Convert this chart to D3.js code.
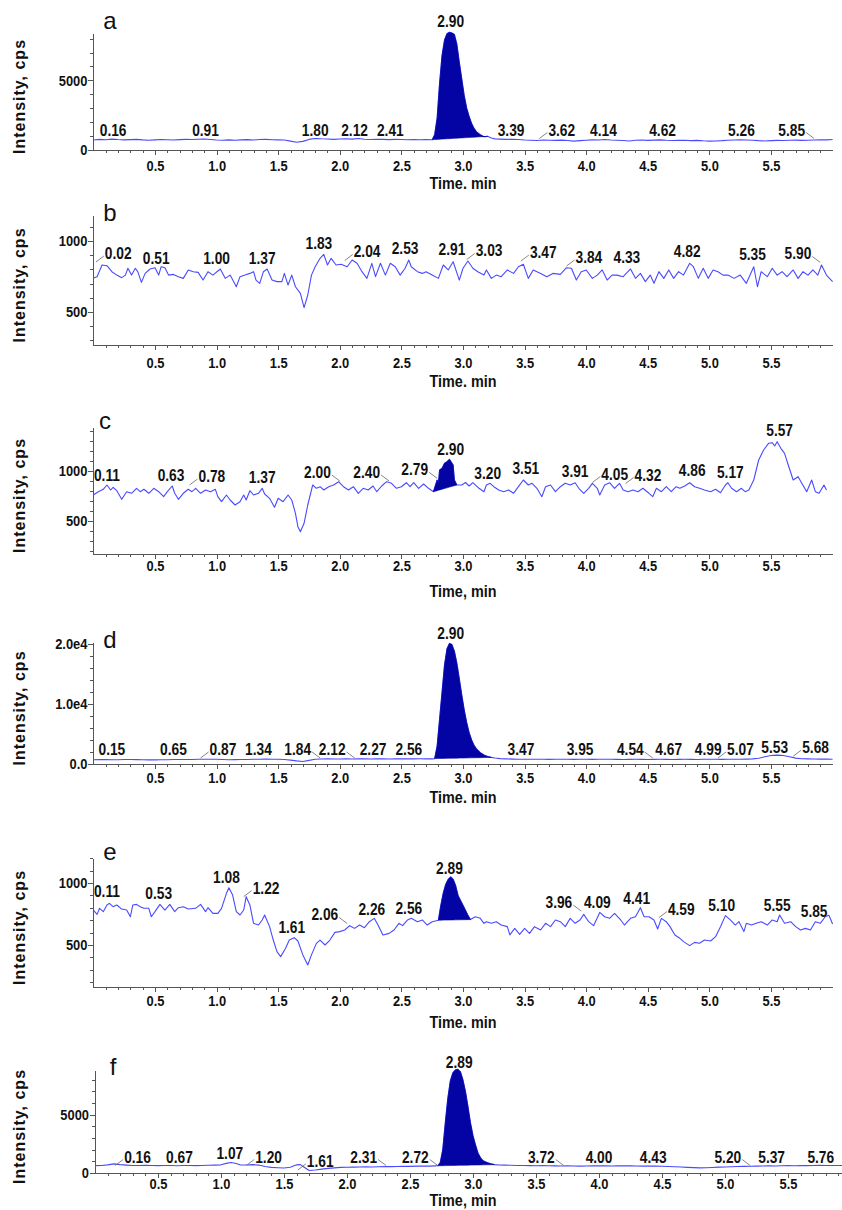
<!DOCTYPE html>
<html lang="en">

<head>
    <meta charset="UTF-8">
    <style type="text/css">
        body {
            margin: 0;
            background: #fff;
        }

        svg {
            display: block;
            font-family: "Liberation Sans", Arial, sans-serif;
        }

        .trace {
            fill: none;
            stroke: #4a4aff;
            stroke-width: 1.1;
            stroke-linejoin: round;
        }

        .peak {
            fill: #0404a4;
            stroke: #0404a4;
            stroke-width: 0.6;
        }

        .axis path,
        .axis line {
            fill: none;
            stroke: #555;
            shape-rendering: crispEdges;
        }

        .axis text {
            font-size: 15px;
            font-weight: bold;
            fill: #111;
        }

        .plabel {
            font-size: 16px;
            font-weight: bold;
            fill: #111;
        }

        .leader {
            stroke: #666;
            stroke-width: 0.8;
        }

        .ytitle {
            font-size: 16px;
            font-weight: bold;
            letter-spacing: 1px;
            fill: #111;
        }

        .xtitle {
            font-size: 16px;
            font-weight: bold;
            fill: #111;
        }

        .letter {
            font-size: 24px;
            fill: #111;
            font-family: "Liberation Sans Narrow", "Liberation Sans", sans-serif;
        }
    </style>
</head>

<body>
    <div class="main"></div>

    <script src="https://cdn.jsdelivr.net/npm/d3@7/dist/d3.min.js"></script>
    <script type="text/javascript">

        // x axis tick labels (minutes)
        var xTickLabels = [0.5, 1.0, 1.5, 2.0, 2.5, 3.0, 3.5, 4.0, 4.5, 5.0, 5.5];

        // y axis tick values per panel
        var yTicksA = [0, 5000];
        var yTicksB = [500, 1000];
        var yTicksC = [500, 1000];
        var yTicksD = [0, 10000, 20000];
        var yTicksE = [500, 1000];
        var yTicksF = [0, 5000];

        // traces: [time (min), intensity (cps)]
        var traceA = [[0.00, 720], [0.05, 760], [0.10, 740], [0.15, 780], [0.20, 750], [0.25, 730], [0.30, 745], [0.35, 765], [0.40, 725], [0.45, 700],
        [0.50, 730], [0.55, 755], [0.60, 740], [0.65, 720], [0.70, 745], [0.75, 760], [0.80, 750], [0.85, 775], [0.90, 790], [0.95, 755],
        [1.00, 720], [1.05, 700], [1.10, 725], [1.15, 700], [1.20, 730], [1.25, 745], [1.30, 720], [1.35, 750], [1.40, 765], [1.45, 740],
        [1.50, 730], [1.55, 715], [1.60, 640], [1.65, 560], [1.70, 620], [1.75, 760], [1.80, 830], [1.85, 805], [1.90, 790], [1.95, 765],
        [2.00, 785], [2.05, 805], [2.10, 780], [2.15, 825], [2.20, 770], [2.25, 750], [2.30, 775], [2.35, 760], [2.40, 745], [2.45, 765],
        [2.50, 750], [2.55, 740], [2.60, 755], [2.65, 740], [2.70, 745], [2.75, 740], [2.77, 1100], [2.79, 2300], [2.81, 4800], [2.83, 6800],
        [2.85, 7900], [2.87, 8350], [2.89, 8450], [2.91, 8400], [2.93, 8300], [2.95, 7600], [2.97, 6300], [2.99, 5100], [3.01, 3900], [3.03, 3000],
        [3.05, 2400], [3.07, 1900], [3.09, 1550], [3.11, 1300], [3.14, 1100], [3.17, 950], [3.20, 980], [3.23, 860], [3.26, 800], [3.30, 780],
        [3.35, 760], [3.40, 775], [3.45, 750], [3.50, 720], [3.55, 700], [3.60, 680], [3.65, 720], [3.70, 700], [3.75, 690], [3.80, 710],
        [3.85, 680], [3.90, 640], [3.95, 670], [4.00, 700], [4.05, 730], [4.10, 720], [4.15, 750], [4.20, 720], [4.25, 700], [4.30, 680],
        [4.35, 650], [4.40, 700], [4.45, 720], [4.50, 690], [4.55, 710], [4.60, 730], [4.65, 700], [4.70, 680], [4.75, 690], [4.80, 700],
        [4.85, 670], [4.90, 690], [4.95, 660], [5.00, 640], [5.05, 650], [5.10, 670], [5.15, 700], [5.20, 720], [5.25, 730], [5.30, 720],
        [5.35, 700], [5.40, 670], [5.45, 650], [5.50, 670], [5.55, 690], [5.60, 680], [5.65, 700], [5.70, 710], [5.75, 690], [5.80, 700],
        [5.85, 720], [5.90, 740], [5.95, 730], [6.00, 750]];

        var traceB = [[0.00, 740], [0.03, 749], [0.07, 831], [0.11, 826], [0.15, 784], [0.19, 760], [0.23, 742], [0.26, 760], [0.28, 808], [0.31, 760],
        [0.34, 808], [0.36, 784], [0.39, 709], [0.42, 772], [0.46, 803], [0.50, 812], [0.53, 760], [0.55, 819], [0.58, 812], [0.61, 760],
        [0.65, 765], [0.69, 749], [0.73, 737], [0.77, 796], [0.81, 784], [0.85, 779], [0.89, 725], [0.93, 784], [0.97, 760], [1.03, 803],
        [1.07, 737], [1.11, 760], [1.16, 678], [1.19, 749], [1.23, 760], [1.27, 772], [1.30, 784], [1.32, 725], [1.35, 702], [1.38, 784],
        [1.41, 803], [1.45, 725], [1.49, 714], [1.53, 714], [1.55, 772], [1.58, 690], [1.61, 760], [1.64, 678], [1.68, 631], [1.71, 531],
        [1.74, 620], [1.77, 760], [1.80, 819], [1.84, 878], [1.87, 906], [1.90, 831], [1.93, 878], [1.97, 831], [2.01, 836], [2.06, 819],
        [2.10, 866], [2.14, 843], [2.18, 784], [2.22, 737], [2.26, 843], [2.29, 749], [2.33, 843], [2.37, 760], [2.41, 843], [2.45, 819],
        [2.49, 760], [2.53, 808], [2.56, 866], [2.58, 819], [2.63, 784], [2.67, 772], [2.70, 784], [2.75, 760], [2.80, 737], [2.84, 831],
        [2.88, 796], [2.92, 854], [2.97, 725], [3.00, 808], [3.04, 859], [3.08, 808], [3.12, 784], [3.17, 760], [3.19, 796], [3.23, 737],
        [3.27, 760], [3.31, 749], [3.36, 796], [3.41, 772], [3.45, 819], [3.49, 836], [3.53, 737], [3.57, 796], [3.63, 772], [3.68, 749],
        [3.73, 772], [3.79, 765], [3.84, 812], [3.88, 808], [3.92, 725], [3.96, 784], [4.00, 796], [4.05, 737], [4.09, 760], [4.13, 796],
        [4.17, 725], [4.21, 760], [4.25, 760], [4.30, 749], [4.36, 803], [4.40, 737], [4.44, 772], [4.48, 714], [4.52, 760], [4.55, 702],
        [4.59, 784], [4.63, 737], [4.67, 796], [4.71, 737], [4.75, 784], [4.79, 760], [4.84, 843], [4.87, 819], [4.91, 737], [4.95, 808],
        [4.99, 737], [5.03, 796], [5.07, 784], [5.11, 760], [5.15, 760], [5.20, 737], [5.25, 760], [5.30, 702], [5.36, 819], [5.39, 678],
        [5.42, 784], [5.47, 749], [5.51, 808], [5.55, 760], [5.59, 784], [5.63, 749], [5.68, 796], [5.72, 737], [5.76, 784], [5.80, 760],
        [5.84, 796], [5.88, 760], [5.91, 831], [5.95, 760], [6.00, 714]];

        var traceC = [[0.00, 760], [0.04, 793], [0.08, 817], [0.11, 860], [0.14, 810], [0.16, 837], [0.19, 803], [0.23, 717], [0.27, 793], [0.31, 777],
        [0.35, 827], [0.38, 793], [0.41, 817], [0.45, 777], [0.49, 827], [0.53, 793], [0.57, 743], [0.60, 793], [0.64, 850], [0.66, 777],
        [0.69, 717], [0.73, 777], [0.77, 817], [0.80, 793], [0.83, 827], [0.87, 777], [0.91, 810], [0.95, 793], [0.99, 817], [1.01, 743],
        [1.04, 693], [1.08, 760], [1.11, 710], [1.15, 660], [1.19, 693], [1.22, 760], [1.24, 710], [1.27, 803], [1.30, 760], [1.34, 777],
        [1.37, 827], [1.39, 770], [1.43, 727], [1.47, 637], [1.50, 727], [1.54, 693], [1.58, 760], [1.61, 710], [1.64, 577], [1.66, 443],
        [1.68, 393], [1.71, 477], [1.74, 660], [1.78, 860], [1.81, 827], [1.84, 843], [1.87, 810], [1.91, 843], [1.95, 860], [1.99, 893],
        [2.03, 843], [2.07, 810], [2.11, 843], [2.15, 777], [2.19, 827], [2.23, 810], [2.27, 850], [2.30, 793], [2.34, 850], [2.38, 893],
        [2.42, 877], [2.46, 827], [2.50, 843], [2.54, 883], [2.57, 843], [2.60, 883], [2.64, 827], [2.68, 870], [2.72, 827], [2.76, 793],
        [2.79, 910], [2.80, 877], [2.81, 1010], [2.83, 1027], [2.85, 1077], [2.87, 1093], [2.89, 1117], [2.92, 1060], [2.93, 910], [2.95, 860],
        [2.99, 860], [3.02, 885], [3.05, 850], [3.08, 883], [3.13, 827], [3.17, 793], [3.19, 860], [3.22, 877], [3.25, 843], [3.29, 810],
        [3.33, 793], [3.37, 810], [3.41, 777], [3.45, 843], [3.49, 910], [3.53, 860], [3.56, 877], [3.60, 827], [3.64, 743], [3.67, 843],
        [3.71, 860], [3.75, 793], [3.79, 843], [3.83, 877], [3.87, 860], [3.91, 883], [3.94, 827], [3.98, 777], [4.02, 827], [4.05, 877],
        [4.09, 827], [4.11, 760], [4.15, 860], [4.19, 883], [4.23, 827], [4.27, 877], [4.30, 810], [4.34, 793], [4.38, 810], [4.42, 793],
        [4.46, 827], [4.51, 777], [4.54, 743], [4.57, 827], [4.61, 793], [4.65, 843], [4.69, 793], [4.73, 843], [4.76, 827], [4.80, 850],
        [4.84, 883], [4.88, 843], [4.92, 827], [4.96, 810], [5.01, 793], [5.05, 817], [5.09, 783], [5.13, 860], [5.15, 883], [5.18, 827],
        [5.22, 793], [5.26, 827], [5.29, 793], [5.32, 810], [5.36, 910], [5.40, 1110], [5.44, 1210], [5.48, 1277], [5.51, 1283], [5.53, 1250],
        [5.55, 1293], [5.58, 1227], [5.61, 1177], [5.64, 1060], [5.68, 910], [5.72, 943], [5.75, 877], [5.79, 793], [5.83, 910], [5.86, 793],
        [5.89, 777], [5.93, 860], [5.95, 810]];

        var traceD = [[0.00, 700], [0.05, 730], [0.10, 750], [0.15, 720], [0.20, 720], [0.25, 760], [0.30, 760], [0.35, 730], [0.40, 700], [0.45, 690],
        [0.50, 680], [0.55, 700], [0.60, 720], [0.65, 740], [0.70, 760], [0.75, 740], [0.80, 750], [0.85, 790], [0.90, 800], [0.95, 790],
        [1.00, 780], [1.05, 750], [1.10, 720], [1.15, 730], [1.20, 740], [1.25, 760], [1.30, 780], [1.35, 800], [1.40, 820], [1.45, 800],
        [1.50, 780], [1.55, 740], [1.60, 650], [1.65, 520], [1.70, 420], [1.75, 600], [1.80, 800], [1.85, 840], [1.90, 850], [1.95, 830],
        [2.00, 830], [2.05, 850], [2.10, 840], [2.15, 860], [2.20, 850], [2.25, 840], [2.30, 860], [2.35, 850], [2.40, 840], [2.45, 860],
        [2.50, 870], [2.55, 850], [2.60, 860], [2.65, 870], [2.70, 860], [2.75, 850], [2.77, 900], [2.79, 3000], [2.81, 7500], [2.83, 12000],
        [2.85, 16500], [2.87, 19200], [2.89, 20100], [2.91, 19900], [2.93, 18800], [2.95, 16800], [2.97, 14200], [2.99, 11500], [3.01, 9000], [3.03, 6900],
        [3.05, 5200], [3.07, 4000], [3.09, 3100], [3.11, 2500], [3.14, 1900], [3.17, 1500], [3.20, 1250], [3.23, 1100], [3.26, 1000], [3.30, 900],
        [3.35, 860], [3.40, 820], [3.45, 800], [3.50, 790], [3.55, 780], [3.60, 790], [3.65, 780], [3.70, 770], [3.75, 780], [3.80, 790],
        [3.85, 780], [3.90, 770], [3.95, 790], [4.00, 780], [4.05, 770], [4.10, 780], [4.15, 790], [4.20, 780], [4.25, 770], [4.30, 760],
        [4.35, 770], [4.40, 780], [4.45, 770], [4.50, 760], [4.55, 770], [4.60, 780], [4.65, 770], [4.70, 760], [4.75, 770], [4.80, 780],
        [4.85, 770], [4.90, 760], [4.95, 780], [5.00, 790], [5.05, 780], [5.10, 770], [5.15, 780], [5.20, 790], [5.25, 800], [5.30, 820],
        [5.35, 850], [5.40, 950], [5.45, 1200], [5.50, 1420], [5.55, 1480], [5.60, 1420], [5.65, 1200], [5.70, 980], [5.75, 880], [5.80, 850],
        [5.85, 830], [5.90, 820], [5.95, 810], [6.00, 800]];

        var traceE = [[0.00, 782], [0.03, 747], [0.05, 796], [0.08, 769], [0.11, 823], [0.13, 836], [0.16, 809], [0.19, 823], [0.23, 790], [0.27, 782],
        [0.30, 728], [0.32, 823], [0.35, 828], [0.38, 809], [0.41, 796], [0.45, 796], [0.47, 728], [0.50, 769], [0.54, 828], [0.58, 782],
        [0.62, 828], [0.66, 769], [0.69, 801], [0.73, 809], [0.77, 790], [0.83, 796], [0.87, 828], [0.91, 769], [0.93, 801], [0.97, 755],
        [1.01, 755], [1.04, 796], [1.08, 917], [1.10, 962], [1.13, 903], [1.16, 769], [1.19, 742], [1.22, 782], [1.24, 890], [1.27, 823],
        [1.30, 675], [1.34, 661], [1.37, 702], [1.39, 742], [1.43, 648], [1.46, 540], [1.49, 446], [1.52, 406], [1.56, 473], [1.59, 540],
        [1.63, 559], [1.66, 532], [1.70, 420], [1.74, 339], [1.77, 420], [1.81, 513], [1.84, 540], [1.88, 500], [1.92, 540], [1.96, 602],
        [2.00, 608], [2.04, 621], [2.08, 656], [2.12, 634], [2.16, 661], [2.20, 640], [2.24, 688], [2.28, 715], [2.31, 661], [2.35, 581],
        [2.40, 594], [2.44, 621], [2.48, 675], [2.51, 656], [2.55, 702], [2.58, 715], [2.63, 688], [2.67, 702], [2.71, 661], [2.75, 688],
        [2.80, 700], [2.82, 820], [2.84, 920], [2.86, 990], [2.88, 1030], [2.90, 1050], [2.92, 1030], [2.94, 980], [2.96, 900], [2.98, 860],
        [3.00, 820], [3.02, 780], [3.04, 740], [3.06, 705], [3.10, 728], [3.14, 715], [3.17, 675], [3.19, 688], [3.23, 675], [3.27, 688],
        [3.31, 661], [3.36, 648], [3.38, 581], [3.42, 634], [3.46, 586], [3.50, 634], [3.54, 594], [3.58, 648], [3.63, 621], [3.67, 675],
        [3.71, 648], [3.75, 702], [3.79, 688], [3.83, 648], [3.87, 715], [3.91, 675], [3.95, 702], [3.98, 747], [4.02, 688], [4.06, 656],
        [4.11, 763], [4.15, 728], [4.19, 715], [4.23, 755], [4.28, 702], [4.31, 661], [4.36, 715], [4.40, 728], [4.44, 801], [4.47, 728],
        [4.51, 728], [4.55, 702], [4.58, 629], [4.61, 715], [4.65, 688], [4.68, 648], [4.72, 581], [4.76, 554], [4.79, 527], [4.84, 495],
        [4.88, 521], [4.92, 514], [4.96, 540], [5.01, 532], [5.05, 567], [5.09, 648], [5.13, 737], [5.17, 702], [5.21, 661], [5.24, 688],
        [5.28, 608], [5.30, 675], [5.34, 661], [5.38, 675], [5.42, 688], [5.47, 661], [5.51, 702], [5.55, 688], [5.57, 742], [5.61, 675],
        [5.66, 688], [5.70, 648], [5.74, 621], [5.78, 634], [5.82, 621], [5.86, 688], [5.90, 675], [5.94, 728], [5.97, 740], [6.00, 670]];

        var traceF = [[0.00, 630], [0.05, 650], [0.10, 700], [0.15, 780], [0.20, 720], [0.25, 680], [0.30, 650], [0.35, 640], [0.40, 660], [0.45, 640],
        [0.50, 630], [0.55, 650], [0.60, 640], [0.65, 620], [0.70, 640], [0.75, 650], [0.80, 630], [0.85, 640], [0.90, 660], [0.95, 680],
        [1.00, 700], [1.05, 850], [1.08, 900], [1.12, 820], [1.15, 700], [1.20, 690], [1.25, 720], [1.30, 680], [1.35, 560], [1.40, 480],
        [1.45, 450], [1.50, 430], [1.55, 500], [1.60, 700], [1.63, 720], [1.66, 500], [1.70, 220], [1.75, 260], [1.80, 330], [1.85, 400],
        [1.90, 440], [1.95, 480], [2.00, 490], [2.05, 500], [2.10, 510], [2.15, 530], [2.20, 520], [2.25, 540], [2.30, 560], [2.35, 550],
        [2.40, 560], [2.45, 580], [2.50, 570], [2.55, 590], [2.60, 600], [2.65, 590], [2.70, 610], [2.72, 620], [2.74, 900], [2.76, 2000],
        [2.78, 4300], [2.80, 6400], [2.82, 7900], [2.84, 8600], [2.86, 8850], [2.88, 8900], [2.90, 8700], [2.92, 8000], [2.94, 7000], [2.96, 5700],
        [2.98, 4300], [3.00, 3200], [3.02, 2400], [3.04, 1700], [3.06, 1300], [3.08, 1050], [3.11, 900], [3.14, 800], [3.17, 720], [3.20, 700],
        [3.25, 680], [3.30, 660], [3.35, 650], [3.40, 640], [3.45, 630], [3.50, 620], [3.55, 630], [3.60, 620], [3.65, 610], [3.70, 600],
        [3.75, 610], [3.80, 600], [3.85, 590], [3.90, 600], [3.95, 610], [4.00, 620], [4.05, 610], [4.10, 600], [4.15, 610], [4.20, 620],
        [4.25, 610], [4.30, 600], [4.35, 590], [4.40, 600], [4.45, 590], [4.50, 580], [4.55, 560], [4.60, 540], [4.65, 510], [4.70, 480],
        [4.75, 460], [4.80, 440], [4.85, 450], [4.90, 470], [4.95, 500], [5.00, 520], [5.05, 540], [5.10, 560], [5.15, 570], [5.20, 580],
        [5.25, 590], [5.30, 600], [5.35, 610], [5.40, 600], [5.45, 620], [5.50, 630], [5.55, 620], [5.60, 640], [5.65, 630], [5.70, 650],
        [5.75, 660], [5.80, 650], [5.85, 640], [5.90, 650], [5.95, 640], [6.00, 630]];

        // integrated peak window [start, end] in minutes
        var peakA = [2.75, 3.20];
        var peakC = [2.76, 2.95];
        var peakD = [2.77, 3.23];
        var peakE = [2.80, 3.06];
        var peakF = [2.72, 3.17];

        // peak annotations: [retention time, label level (cps), leader side]
        var labelsA = [[0.16, 1040, 0], [0.91, 1040, 0], [1.80, 1040, 0], [2.12, 1040, 0], [2.41, 1040, 0], [2.90, 8830, 0],
        [3.39, 1040, 0], [3.62, 1040, 1], [4.14, 1040, 0], [4.62, 1040, 0], [5.26, 1040, 0], [5.85, 1040, -1]];
        var labelsB = [[0.02, 873, 1], [0.51, 838, 0], [1.00, 838, 0], [1.37, 838, 0], [1.83, 947, 0], [2.04, 884, 1], [2.53, 905, 0],
        [2.91, 901, 0], [3.03, 891, 1], [3.47, 880, 1], [3.84, 845, 1], [4.33, 845, 0], [4.82, 884, 0], [5.35, 863, 0], [5.90, 870, -1]];
        var labelsC = [[0.11, 905, 0], [0.63, 905, 0], [0.78, 890, 1], [1.37, 880, 0], [2.00, 930, -1], [2.40, 930, -1], [2.79, 957, -1],
        [2.90, 1165, 0], [3.20, 920, 0], [3.51, 975, 0], [3.91, 940, 0], [4.05, 915, 1], [4.32, 905, 1], [4.86, 947, 0], [5.17, 930, 0], [5.57, 1350, 0]];
        var labelsD = [[0.15, 1500, 0], [0.65, 1500, 0], [0.87, 1500, 1], [1.34, 1500, 0], [1.84, 1500, -1], [2.12, 1500, -1], [2.27, 1500, 0],
        [2.56, 1500, 0], [2.90, 20750, 0], [3.47, 1500, 0], [3.95, 1500, 0], [4.54, 1500, -1], [4.67, 1500, 0], [4.99, 1500, 0], [5.07, 1500, 1],
        [5.53, 1800, 0], [5.68, 1800, 1]];
        var labelsE = [[0.11, 885, 0], [0.53, 875, 0], [1.08, 1000, 0], [1.22, 915, 1], [1.61, 597, 0], [2.06, 698, -1], [2.26, 740, 0],
        [2.56, 750, 0], [2.89, 1069, 0], [3.96, 798, -1], [4.09, 798, 0], [4.41, 831, 0], [4.59, 745, 1], [5.10, 777, 0], [5.55, 777, 0], [5.85, 723, 0]];
        var labelsF = [[0.16, 900, 1], [0.67, 900, 0], [1.07, 1160, 0], [1.20, 900, 1], [1.61, 520, 1], [2.31, 900, -1], [2.72, 900, -1],
        [2.89, 9050, 0], [3.72, 900, -1], [4.00, 900, 0], [4.43, 900, 0], [5.20, 900, -1], [5.37, 900, 0], [5.76, 900, 0]];

        var panels = [
            { letter: "a", trace: traceA, peak: peakA, labels: labelsA, yTicks: yTicksA, yDomain: [0, 8400], yMinor: 1000, top: 33, bottom: 150, x0: 93.4, x1: 832.6, pad: 5, xTitle: "Time. min", titleY: 189, lx: 110, ly: 29 },
            { letter: "b", trace: traceB, peak: null, labels: labelsB, yTicks: yTicksB, yDomain: [268, 1183], yMinor: 100, top: 215, bottom: 345, x0: 93.4, x1: 832.6, pad: 7, xTitle: "Time. min", titleY: 387, lx: 110, ly: 221 },
            { letter: "c", trace: traceC, peak: peakC, labels: labelsC, yTicks: yTicksC, yDomain: [170, 1440], yMinor: 100, top: 427, bottom: 554, x0: 93.4, x1: 832.6, pad: 1, xTitle: "Time, min", titleY: 597, lx: 105, ly: 429 },
            { letter: "d", trace: traceD, peak: peakD, labels: labelsD, yTicks: yTicksD, yDomain: [0, 20330], yMinor: 2000, top: 642, bottom: 764, x0: 93.4, x1: 832.6, pad: 3, xTitle: "Time. min", titleY: 803, lx: 110, ly: 648 },
            { letter: "e", trace: traceE, peak: peakE, labels: labelsE, yTicks: yTicksE, yDomain: [161, 1202], yMinor: 100, top: 858, bottom: 987, x0: 93.4, x1: 832.6, pad: 3, xTitle: "Time. min", titleY: 1028, lx: 110, ly: 860 },
            { letter: "f", trace: traceF, peak: peakF, labels: labelsF, yTicks: yTicksF, yDomain: [0, 8840], yMinor: 1000, top: 1070, bottom: 1173, x0: 95, x1: 851, pad: 0, xTitle: "Time, min", titleY: 1206, lx: 113, ly: 1075 }
        ];

        // horizontal squeeze to mimic the narrow bold face of the original
        var squeeze = 0.86;

        var svg = d3.select(".main").append("svg")
            .attr("width", 842)
            .attr("height", 1210);

        var minorX = d3.range(1, 60).map(function (i) { return i / 10; })
            .filter(function (t) { return Math.round(t * 10) % 5 !== 0; });

        panels.forEach(function (p) {
            var x = d3.scaleLinear().domain([0, 6]).range([p.x0, p.x1]);
            var y = d3.scaleLinear().domain(p.yDomain).range([p.bottom, p.top]);
            var g = svg.append("g");

            // minor ticks
            g.append("g")
                .attr("class", "axis")
                .attr("transform", "translate(0," + p.bottom + ")")
                .call(d3.axisBottom(x).tickValues(minorX).tickSize(3).tickFormat(""))
                .select(".domain").remove();

            var yMinorTicks = d3.range(Math.ceil(p.yDomain[0] / p.yMinor) * p.yMinor, p.yDomain[1], p.yMinor);
            g.append("g")
                .attr("class", "axis")
                .attr("transform", "translate(" + p.x0 + ",0)")
                .call(d3.axisLeft(y).tickValues(yMinorTicks).tickSize(3).tickFormat(""))
                .select(".domain").remove();

            // major axes
            g.append("g")
                .attr("class", "axis")
                .attr("transform", "translate(0," + p.bottom + ")")
                .call(d3.axisBottom(x).tickValues(xTickLabels).tickSize(5).tickSizeOuter(0)
                    .tickPadding(p.pad).tickFormat(d3.format(".1f")))
                .selectAll("text").attr("transform", "scale(" + squeeze + ",1)");

            var yFormat = p.letter === "d"
                ? function (d) { return d === 0 ? "0.0" : (d / 10000).toFixed(1) + "e4"; }
                : d3.format("d");

            g.append("g")
                .attr("class", "axis")
                .attr("transform", "translate(" + p.x0 + ",0)")
                .call(d3.axisLeft(y).tickValues(p.yTicks).tickSize(5).tickSizeOuter(0)
                    .tickPadding(2).tickFormat(yFormat))
                .selectAll("text").attr("transform", "scale(" + squeeze + ",1)");

            // trace
            var line = d3.line()
                .x(function (d) { return x(d[0]); })
                .y(function (d) { return y(d[1]); });

            g.append("path")
                .attr("class", "trace")
                .attr("d", line(p.trace));

            // integrated peak, baseline drawn between the window end points
            if (p.peak) {
                var pts = p.trace.filter(function (d) { return d[0] >= p.peak[0] - 1e-9 && d[0] <= p.peak[1] + 1e-9; });
                var s = pts[0], e = pts[pts.length - 1];
                var area = d3.area()
                    .x(function (d) { return x(d[0]); })
                    .y0(function (d) { return y(s[1] + (e[1] - s[1]) * (d[0] - s[0]) / (e[0] - s[0])); })
                    .y1(function (d) { return y(d[1]); });
                g.append("path")
                    .attr("class", "peak")
                    .attr("d", area(pts));
            }

            // peak labels
            p.labels.forEach(function (l) {
                var lx = x(l[0]), ly = y(l[1]);
                var tx = l[2] === 0 ? lx : lx + l[2] * 9;
                g.append("text")
                    .attr("class", "plabel")
                    .attr("transform", "translate(" + tx + "," + ly + ") scale(" + squeeze + ",1)")
                    .attr("text-anchor", l[2] === 0 ? "middle" : (l[2] > 0 ? "start" : "end"))
                    .text(l[0].toFixed(2));
                if (l[2] !== 0) {
                    g.append("line")
                        .attr("class", "leader")
                        .attr("x1", lx).attr("y1", ly + 3)
                        .attr("x2", lx + l[2] * 8).attr("y2", ly - 3);
                }
            });

            // titles
            g.append("text")
                .attr("class", "ytitle")
                .attr("text-anchor", "middle")
                .attr("transform", "translate(25," + ((p.top + p.bottom) / 2 + 5) + ") rotate(-90)")
                .text("Intensity, cps");

            g.append("text")
                .attr("class", "xtitle")
                .attr("text-anchor", "middle")
                .attr("transform", "translate(463," + p.titleY + ") scale(0.9,1)")
                .text(p.xTitle);

            g.append("text")
                .attr("class", "letter")
                .attr("text-anchor", "middle")
                .attr("x", p.lx)
                .attr("y", p.ly)
                .text(p.letter);
        });

    </script>
</body>

</html>
